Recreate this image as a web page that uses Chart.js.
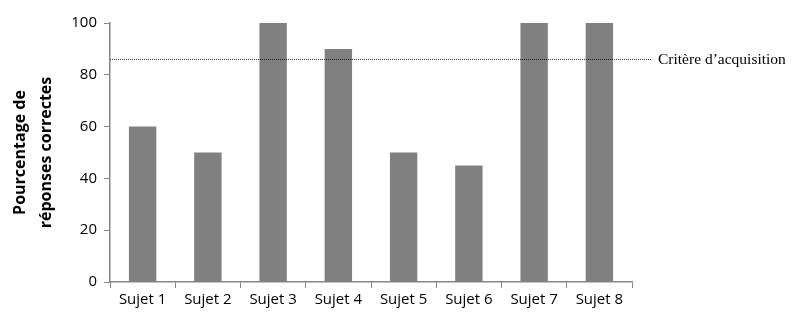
<!DOCTYPE html>
<html>
<head>
<meta charset="utf-8">
<script src="https://cdn.jsdelivr.net/npm/chart.js@4"></script>
<style>
  html, body { margin:0; padding:0; background:#fff; }
</style>
</head>
<body>
<canvas id="chart" width="792" height="313"></canvas>
<script>
// données
const sujets = ["Sujet 1","Sujet 2","Sujet 3","Sujet 4","Sujet 5","Sujet 6","Sujet 7","Sujet 8"];
const pourcentages = [60, 50, 100, 90, 50, 45, 100, 100];
const critere = 86;
const critereLabel = "Critère d’acquisition";

// ligne pointillée du critère + son libellé
const critereLine = {
    id:"critereLine",
    afterDatasetsDraw(chart){
        let ctx = chart.ctx;
        let y = Math.round(chart.scales.y.getPixelForValue(critere)) + 0.5;
        let left = chart.chartArea.left;
        let right = chart.chartArea.right + 20;
        ctx.save();
        ctx.strokeStyle = "#000";
        ctx.lineWidth = 0.8;
        ctx.setLineDash([1, 1]);
        ctx.beginPath();
        ctx.moveTo(left, y);
        ctx.lineTo(right, y);
        ctx.stroke();
        ctx.setLineDash([]);
        ctx.fillStyle = "#000";
        ctx.font = "15.5px 'Liberation Serif'";
        ctx.textBaseline = "middle";
        ctx.fillText(critereLabel, right + 6, y);
        ctx.restore();
    }
};

let chart = new Chart(document.getElementById("chart"), {
    type:"bar",
    data:{
        labels:sujets,
        datasets:[
            {
                label:"Pourcentage",
                data:pourcentages,
                backgroundColor:"#808080",
                barPercentage:0.42,
                categoryPercentage:1.0
            }
        ]
    },
    options:{
        responsive:false,
        animation:false,
        layout:{ padding:{ left:8, right:160, top:23, bottom:0 } },
        plugins:{
            legend:{ display:false },
            tooltip:{ enabled:false }
        },
        scales:{
            x:{
                afterFit(scale){ scale.height = 31; },
                grid:{ display:true, drawOnChartArea:false, offset:true, color:"#868686", tickLength:6, lineWidth:1 },
                border:{ color:"#868686", width:1.5 },
                ticks:{ color:"#000", font:{ family:"'Open Sans'", size:15 }, padding:3, maxRotation:0 }
            },
            y:{
                min:0,
                max:100,
                afterFit(scale){ scale.width = 102; },
                grid:{ display:true, drawOnChartArea:false, color:"#868686", tickLength:6 },
                border:{ color:"#868686", width:1.5 },
                ticks:{ stepSize:20, color:"#000", font:{ family:"'Open Sans'", size:15 }, padding:7 },
                title:{
                    display:true,
                    text:["Pourcentage de","réponses correctes"],
                    color:"#000",
                    font:{ family:"'Open Sans'", size:16, weight:"bold", lineHeight:1.6 },
                    padding:{ top:0, bottom:0 }
                }
            }
        }
    },
    plugins:[critereLine]
});
</script>
</body>
</html>
